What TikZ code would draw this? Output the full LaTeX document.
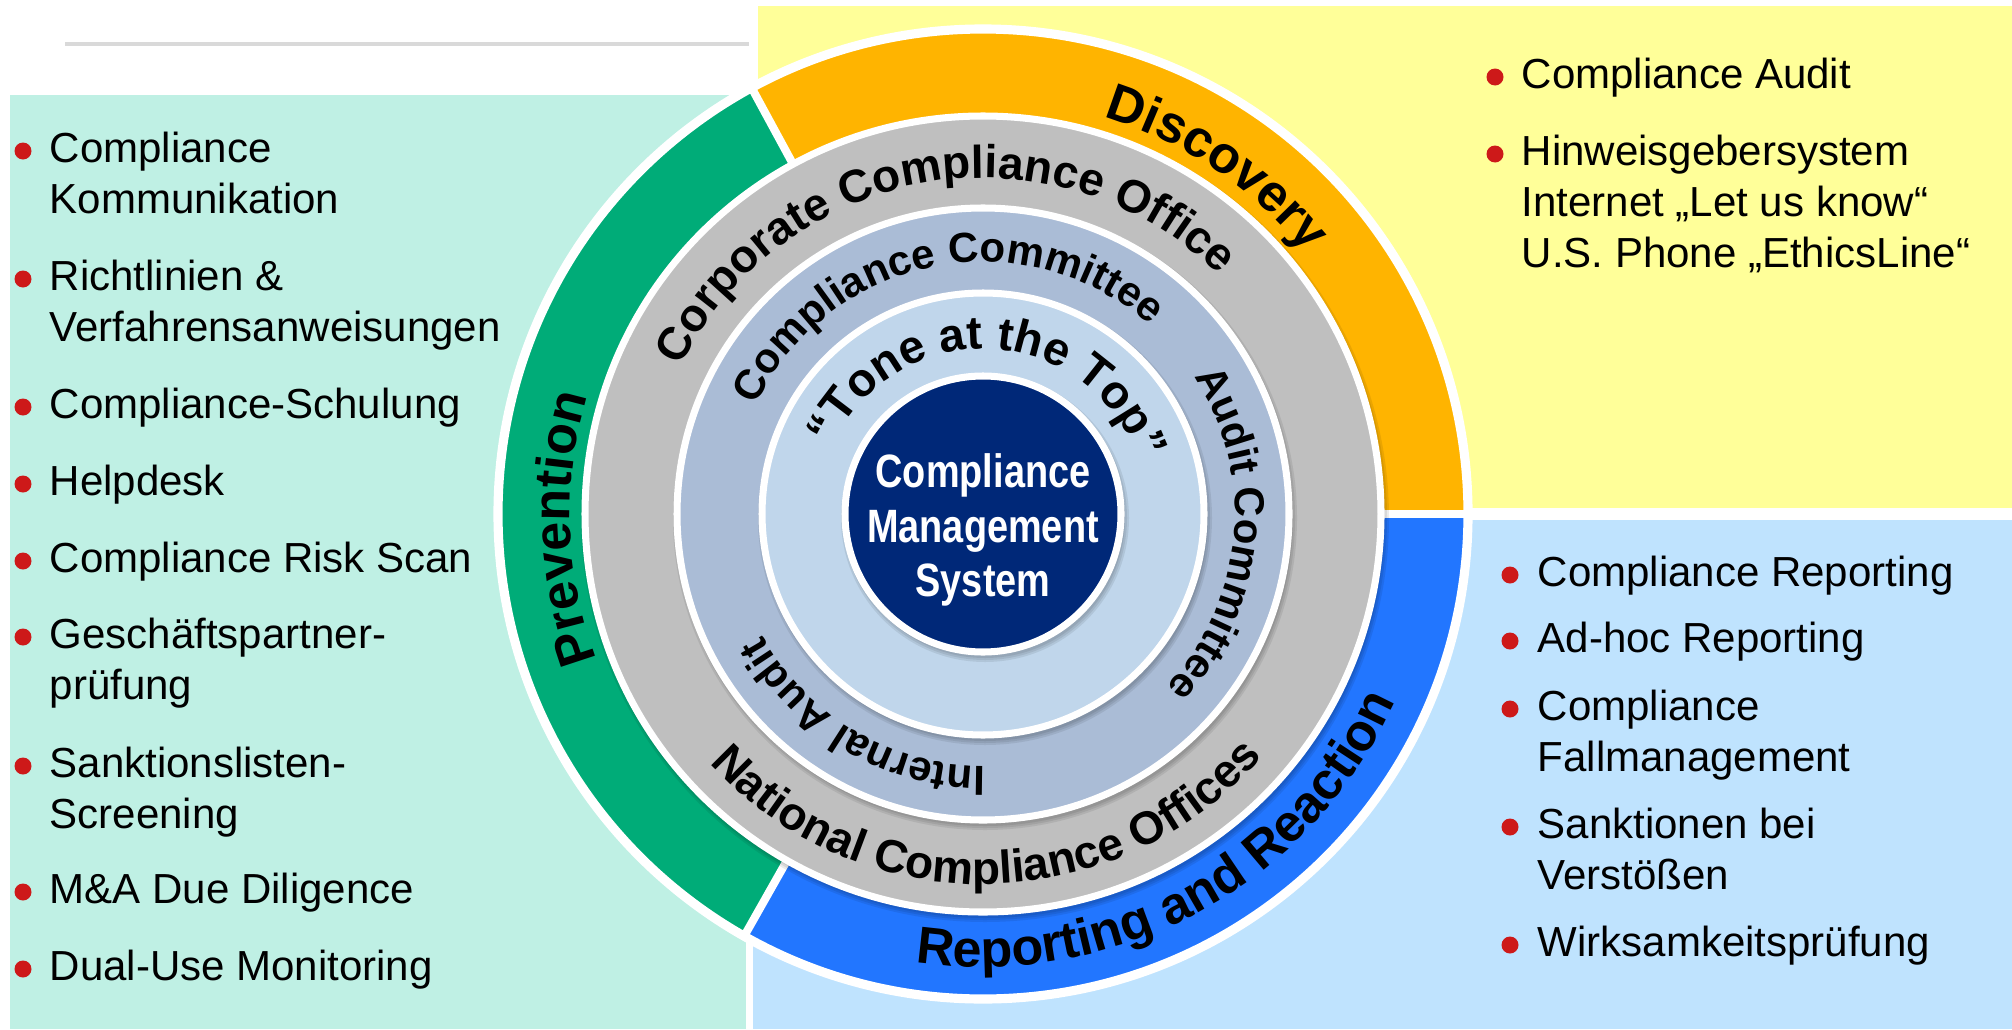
\documentclass[tikz,border=0pt]{standalone}
\usepackage{fontspec}
\setmainfont{Liberation Sans}
\newfontfamily\narrowfont{Liberation Sans}[FakeStretch=0.81]
\usetikzlibrary{decorations.text}

\definecolor{mintbg}{RGB}{191,240,228}
\definecolor{yellowbg}{RGB}{255,255,153}
\definecolor{bluebg}{RGB}{191,227,254}
\definecolor{prevgreen}{RGB}{0,172,120}
\definecolor{discorange}{RGB}{255,180,0}
\definecolor{repblue}{RGB}{34,118,255}
\definecolor{officegray}{RGB}{191,191,191}
\definecolor{committeeblue}{RGB}{170,188,214}
\definecolor{toneblue}{RGB}{192,214,235}
\definecolor{cmsnavy}{RGB}{0,40,120}
\definecolor{bulletred}{RGB}{205,25,25}

\newcommand{\outerfont}{\bfseries\fontsize{14.8pt}{17pt}\selectfont}
\newcommand{\officefont}{\bfseries\fontsize{13.1pt}{15pt}\selectfont}
\newcommand{\committeefont}{\bfseries\fontsize{11.95pt}{14pt}\selectfont}
\newcommand{\tonefont}{\bfseries\fontsize{13.3pt}{15pt}\selectfont}

\tikzset{
  % multi-line nodes sit on the baseline of their last line
  listtext/.style={anchor=base west, align=left, inner sep=0pt,
    font=\fontsize{11.95pt}{14.5pt}\selectfont},
  bulletdot/.style={fill=bulletred},
  ringedge/.style={draw=white, line width=2pt},
  cmslabel/.style={text=white, align=center, inner sep=0pt,
    font=\narrowfont\bfseries\fontsize{13.3pt}{15.5pt}\selectfont}
}

\begin{document}
\begin{tikzpicture}[x=0.01cm, y=0.01cm]
\useasboundingbox (0,0) rectangle (2012,1029);
\fill[white] (0,0) rectangle (2012,1029);
% title rule and the three panels
\draw[black!15, line width=0.9pt] (65,985) -- (749,985);
\fill[mintbg] (10,0) rectangle (746,934);
\fill[yellowbg] (758,521) rectangle (2012,1023);
\fill[bluebg] (753,0) rectangle (2012,509);

\coordinate (C) at (983,515);

% outer ring: Discovery / Prevention / Reporting
\fill[discorange] (C) -- ++(0:485) arc[start angle=0, end angle=118.5, radius=485] -- cycle;
\fill[prevgreen] (C) -- ++(118.5:485) arc[start angle=118.5, end angle=240.5, radius=485] -- cycle;
\fill[repblue] (C) -- ++(240.5:485) arc[start angle=240.5, end angle=360, radius=485] -- cycle;
\draw[white, line width=2.6pt] (C) circle[radius=485];
\foreach \a in {0,118.5,240.5}
  \draw[white, line width=2.3pt] (C) -- ++(\a:487);

% inner discs with a soft shadow
\foreach \r/\col in {398/officegray, 306/committeeblue, 221/toneblue, 138/cmsnavy} {
  \foreach \k in {2,4,6}
    \fill[black, opacity=0.08] (985,511) circle[radius=\r+\k];
  \filldraw[fill=\col, ringedge] (C) circle[radius=\r];
}

% ring labels
\path[decorate, decoration={text along path, text align=center,
  text={|\outerfont|Discovery}}]
  (C) ++(106:415) arc[start angle=106, end angle=6, radius=415];
\path[decorate, decoration={text along path, text align=center,
  text={|\outerfont|Prevention}}]
  (C) ++(237:413) arc[start angle=237, end angle=127, radius=413];
\path[decorate, decoration={text along path, text align=center,
  text={|\outerfont|Reporting and Reaction}}]
  (C) ++(-121.5:453) arc[start angle=-121.5, end angle=-1.5, radius=453];

\path[decorate, decoration={text along path, text align=center,
  text={|\officefont|Corporate Compliance Office}}]
  (C) ++(169.6:336) arc[start angle=169.6, end angle=29.6, radius=336];
\path[decorate, decoration={text along path, text align=center,
  text={|\officefont|National Compliance Offices}}]
  (C) ++(-159.3:370) arc[start angle=-159.3, end angle=-19.3, radius=370];

\path[decorate, decoration={text along path, text align=center,
  text={|\committeefont|Compliance Committee}}]
  (C) ++(171.4:252) arc[start angle=171.4, end angle=31.4, radius=252];
\path[decorate, decoration={text along path, text align=center,
  text={|\committeefont|Audit Committee}}]
  (C) ++(44.8:252) arc[start angle=44.8, end angle=-55.2, radius=252];
\path[decorate, decoration={text along path, text align=center,
  text={|\committeefont|Internal Audit}}]
  (C) ++(-80.3:252) arc[start angle=-80.3, end angle=-160.3, radius=252];

\path[decorate, decoration={text along path, text align=center,
  text={|\tonefont|“Tone at the Top”}}]
  (C) ++(167.3:165) arc[start angle=167.3, end angle=7.3, radius=165];

% centre
\node[cmslabel] (cms) at (983,499) {Compliance\\Management\\System};

% Prevention list
\fill[bulletdot] (23,878) circle[radius=8.5];
\node[listtext] (prev1) at (49,816) {Compliance\\Kommunikation};
\fill[bulletdot] (23,750) circle[radius=8.5];
\node[listtext] (prev2) at (49,688) {Richtlinien \&\\Verfahrensanweisungen};
\fill[bulletdot] (23,622) circle[radius=8.5];
\node[listtext] (prev3) at (49,611) {Compliance-Schulung};
\fill[bulletdot] (23,545) circle[radius=8.5];
\node[listtext] (prev4) at (49,534) {Helpdesk};
\fill[bulletdot] (23,468) circle[radius=8.5];
\node[listtext] (prev5) at (49,457) {Compliance Risk Scan};
\fill[bulletdot] (23,392) circle[radius=8.5];
\node[listtext] (prev6) at (49,330) {Geschäftspartner-\\prüfung};
\fill[bulletdot] (23,263) circle[radius=8.5];
\node[listtext] (prev7) at (49,201) {Sanktionslisten-\\Screening};
\fill[bulletdot] (23,137) circle[radius=8.5];
\node[listtext] (prev8) at (49,126) {M\&A Due Diligence};
\fill[bulletdot] (23,60) circle[radius=8.5];
\node[listtext] (prev9) at (49,49) {Dual-Use Monitoring};

% Discovery list
\fill[bulletdot] (1495,952) circle[radius=8.5];
\node[listtext] (disc1) at (1521,941) {Compliance Audit};
\fill[bulletdot] (1495,875) circle[radius=8.5];
\node[listtext] (disc2) at (1521,762) {Hinweisgebersystem\\Internet „Let us know“\\U.S. Phone „EthicsLine“};

% Reporting list
\fill[bulletdot] (1510,454) circle[radius=8.5];
\node[listtext] (rep1) at (1537,443) {Compliance Reporting};
\fill[bulletdot] (1510,388) circle[radius=8.5];
\node[listtext] (rep2) at (1537,377) {Ad-hoc Reporting};
\fill[bulletdot] (1510,320) circle[radius=8.5];
\node[listtext] (rep3) at (1537,258) {Compliance\\Fallmanagement};
\fill[bulletdot] (1510,202) circle[radius=8.5];
\node[listtext] (rep4) at (1537,140) {Sanktionen bei\\Verstößen};
\fill[bulletdot] (1510,84) circle[radius=8.5];
\node[listtext] (rep5) at (1537,73) {Wirksamkeitsprüfung};
\end{tikzpicture}
\end{document}
